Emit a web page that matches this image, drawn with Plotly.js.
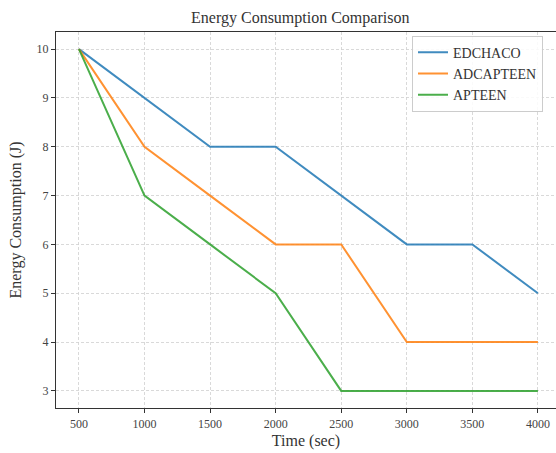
<!DOCTYPE html>
<html><head><meta charset="utf-8">
<script src="https://cdn.plot.ly/plotly-3.0.1.min.js"></script>
<style>body{margin:0;padding:0;background:#fff}#chart{width:556px;height:453px}</style>
</head><body><div id="chart"></div>
<script>
const time = [500, 1000, 1500, 2000, 2500, 3000, 3500, 4000];
const edchaco = [10, 9, 8, 8, 7, 6, 6, 5];
const adcapteen = [10, 8, 7, 6, 6, 4, 4, 4];
const apteen = [10, 7, 6, 5, 3, 3, 3, 3];
const yTicks = [3, 4, 5, 6, 7, 8, 9, 10];
const names = ['EDCHACO', 'ADCAPTEEN', 'APTEEN'];
const colors = ['#1f77b4', '#ff7f0e', '#2ca02c'];
const series = [edchaco, adcapteen, apteen];
const font = "'Liberation Serif', 'DejaVu Serif', serif";
const traces = series.map((s, i) => ({
  x: time, y: s, name: names[i], type: 'scatter', mode: 'lines',
  line: {color: colors[i], width: 2}, opacity: 0.85
}));
const layout = {
  width: 556, height: 453,
  margin: {l: 56, r: 0, t: 32, b: 45},
  paper_bgcolor: '#fff', plot_bgcolor: '#fff',
  font: {family: font, color: '#333', size: 12},
  title: {text: 'Energy Consumption Comparison', font: {family: font, size: 16, color: '#333'}, x: 0.54, xanchor: 'center', y: 0.962, yanchor: 'middle'},
  xaxis: {
    range: [325, 4138], tickvals: time, ticktext: time.map(String),
    showline: true, mirror: true, linecolor: '#333', linewidth: 1.2,
    ticks: 'outside', ticklen: 4, tickcolor: '#333', tickwidth: 1,
    showgrid: true, gridcolor: '#d0d0d0', gridwidth: 0.8, griddash: '3px,2px',
    zeroline: false, tickfont: {size: 12, family: font, color: '#444'},
    title: {text: 'Time (sec)', font: {size: 16, family: font, color: '#333'}, standoff: 5}
  },
  yaxis: {
    range: [2.65, 10.35], tickvals: yTicks,
    showline: true, linecolor: '#333', linewidth: 1.2,
    ticks: 'outside', ticklen: 4, tickcolor: '#333', tickwidth: 1,
    showgrid: true, gridcolor: '#d0d0d0', gridwidth: 0.8, griddash: '3px,2px',
    zeroline: false, tickfont: {size: 12, family: font, color: '#444'},
    title: {text: 'Energy Consumption (J)', font: {size: 16, family: font, color: '#333'}, standoff: 10}
  },
  legend: {
    x: 0.712, y: 0.99, xanchor: 'left', yanchor: 'top',
    bgcolor: 'rgba(255,255,255,0.85)', bordercolor: '#cccccc', borderwidth: 1,
    font: {size: 14, family: font, color: '#333'}, tracegroupgap: 0
  },
  showlegend: true
};
Plotly.newPlot('chart', traces, layout, {displayModeBar: false, staticPlot: true});
</script></body></html>
